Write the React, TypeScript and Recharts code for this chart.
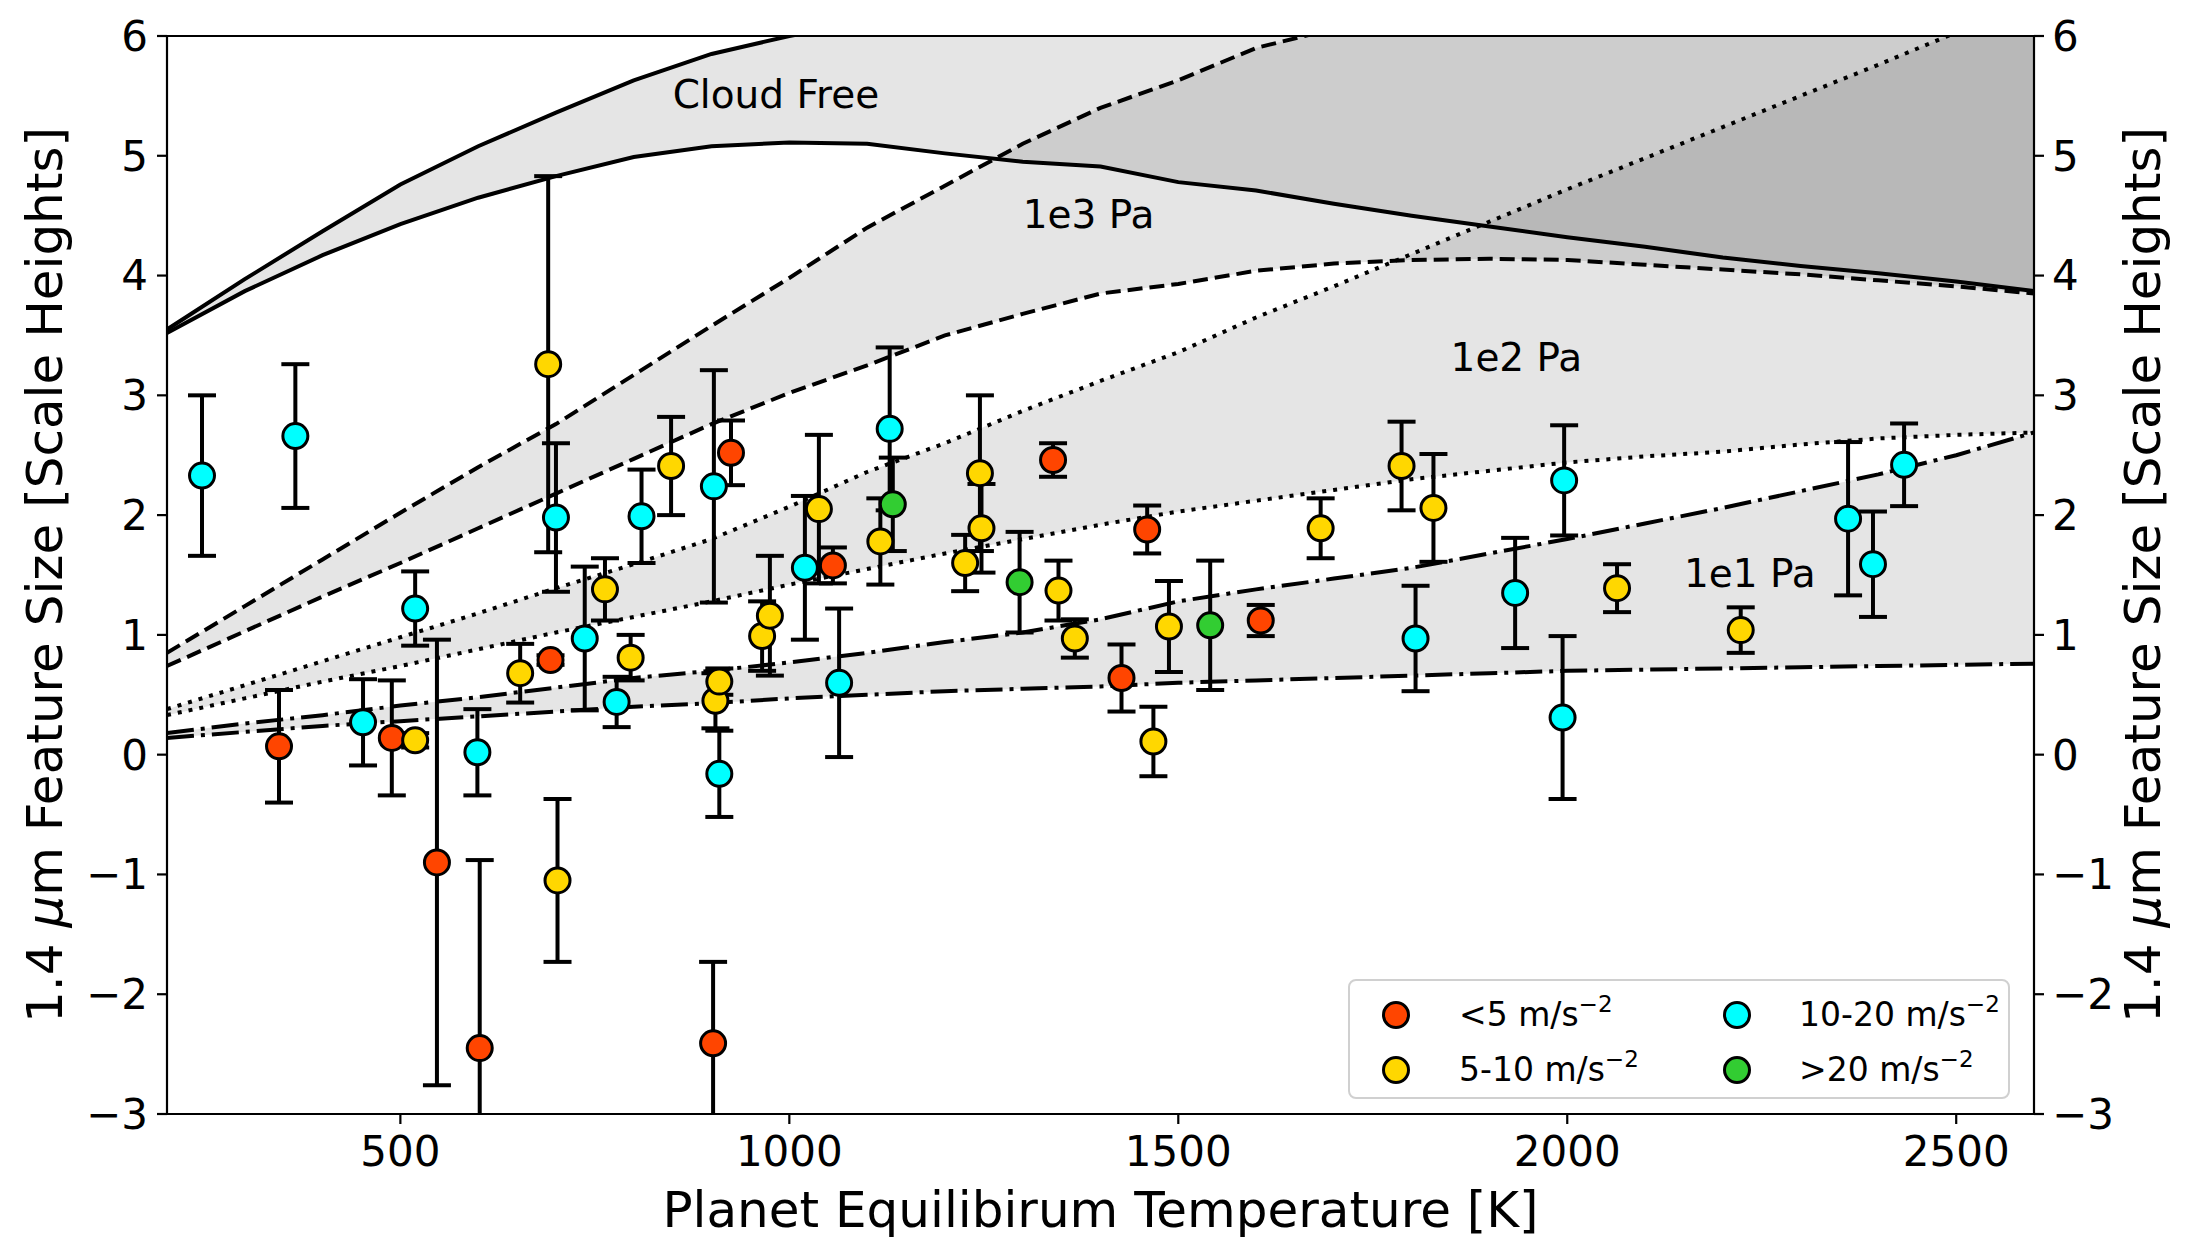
import React from 'react';
import { ComposedChart, Area, Line, Scatter, ErrorBar, XAxis, YAxis, Legend, ReferenceLine, Label } from 'recharts';

// model grid (K)
const temps = [200, 300, 400, 500, 600, 700, 800, 900, 1000, 1100, 1200, 1300, 1400, 1500, 1600, 1700, 1800, 1900, 2000, 2100, 2200, 2300, 2400, 2500, 2600];

// model curves, scale heights
const cloudFreeUpper = [3.55, 3.97, 4.37, 4.76, 5.08, 5.36, 5.63, 5.85, 6.0, 6.12, 6.22, 6.3, 6.38, 6.45, 6.5, 6.55, 6.6, 6.64, 6.68, 6.7, 6.72, 6.74, 6.76, 6.77, 6.78];
const cloudFreeLower = [3.52, 3.87, 4.17, 4.43, 4.65, 4.83, 4.99, 5.08, 5.11, 5.1, 5.02, 4.95, 4.91, 4.78, 4.71, 4.6, 4.5, 4.41, 4.32, 4.24, 4.15, 4.08, 4.02, 3.95, 3.87];
const pa1e3Upper = [0.85, 1.24, 1.63, 2.02, 2.4, 2.76, 3.17, 3.58, 3.98, 4.4, 4.75, 5.1, 5.4, 5.63, 5.9, 6.06, 6.2, 6.35, 6.5, 6.62, 6.74, 6.85, 6.95, 7.05, 7.15];
const pa1e3Lower = [0.74, 1.03, 1.32, 1.6, 1.89, 2.18, 2.47, 2.76, 3.02, 3.25, 3.5, 3.68, 3.85, 3.93, 4.04, 4.1, 4.13, 4.14, 4.13, 4.09, 4.05, 4.01, 3.96, 3.91, 3.85];
const pa1e2Upper = [0.38, 0.58, 0.78, 0.98, 1.18, 1.39, 1.59, 1.8, 2.07, 2.36, 2.6, 2.87, 3.12, 3.36, 3.65, 3.91, 4.18, 4.45, 4.72, 4.98, 5.24, 5.5, 5.76, 6.03, 6.29];
const pa1e2Lower = [0.33, 0.47, 0.61, 0.74, 0.88, 1.02, 1.15, 1.28, 1.42, 1.55, 1.68, 1.8, 1.92, 2.03, 2.12, 2.21, 2.3, 2.37, 2.44, 2.49, 2.53, 2.59, 2.64, 2.67, 2.69];
const pa1e1Upper = [0.18, 0.26, 0.33, 0.41, 0.48, 0.56, 0.64, 0.7, 0.77, 0.85, 0.94, 1.02, 1.13, 1.28, 1.38, 1.47, 1.56, 1.68, 1.8, 1.93, 2.06, 2.2, 2.34, 2.5, 2.69];
const pa1e1Lower = [0.14, 0.19, 0.24, 0.28, 0.32, 0.36, 0.4, 0.43, 0.47, 0.5, 0.53, 0.55, 0.57, 0.6, 0.62, 0.64, 0.66, 0.68, 0.7, 0.71, 0.72, 0.73, 0.74, 0.75, 0.76];

// planets by surface gravity: t = Teq, v = feature size, e = 1 sigma
const gravityLow = [
  { t: 344, v: 0.07, e: 0.47 }, { t: 489, v: 0.14, e: 0.48 }, { t: 547, v: -0.9, e: 1.86 },
  { t: 602, v: -2.45, e: 1.57 }, { t: 693, v: 0.79, e: 0.04 }, { t: 902, v: -2.41, e: 0.68 },
  { t: 925, v: 2.52, e: 0.27 }, { t: 1056, v: 1.58, e: 0.15 }, { t: 1339, v: 2.46, e: 0.14 },
  { t: 1427, v: 0.64, e: 0.28 }, { t: 1460, v: 1.88, e: 0.2 }, { t: 1606, v: 1.12, e: 0.13 },
];
const gravityMid = [
  { t: 519, v: 0.12, e: 0.06 }, { t: 654, v: 0.68, e: 0.245 }, { t: 690, v: 3.26, e: 1.57 },
  { t: 702, v: -1.05, e: 0.68 }, { t: 763, v: 1.38, e: 0.26 }, { t: 796, v: 0.81, e: 0.19 },
  { t: 848, v: 2.41, e: 0.41 }, { t: 905, v: 0.45, e: 0.23 }, { t: 910, v: 0.61, e: 0.11 },
  { t: 965, v: 0.99, e: 0.29 }, { t: 975, v: 1.16, e: 0.5 }, { t: 1038, v: 2.05, e: 0.62 },
  { t: 1117, v: 1.78, e: 0.36 }, { t: 1226, v: 1.6, e: 0.235 }, { t: 1245, v: 2.35, e: 0.65 },
  { t: 1247, v: 1.89, e: 0.37 }, { t: 1346, v: 1.37, e: 0.25 }, { t: 1367, v: 0.97, e: 0.16 },
  { t: 1468, v: 0.11, e: 0.29 }, { t: 1488, v: 1.07, e: 0.38 }, { t: 1683, v: 1.89, e: 0.25 },
  { t: 1787, v: 2.41, e: 0.37 }, { t: 1828, v: 2.06, e: 0.45 }, { t: 2064, v: 1.39, e: 0.2 },
  { t: 2223, v: 1.04, e: 0.19 },
];
const gravityHigh = [
  { t: 245, v: 2.33, e: 0.67 }, { t: 365, v: 2.66, e: 0.6 }, { t: 452, v: 0.27, e: 0.36 },
  { t: 519, v: 1.22, e: 0.31 }, { t: 599, v: 0.02, e: 0.36 }, { t: 700, v: 1.98, e: 0.62 },
  { t: 737, v: 0.97, e: 0.6 }, { t: 778, v: 0.44, e: 0.21 }, { t: 810, v: 1.99, e: 0.39 },
  { t: 903, v: 2.24, e: 0.97 }, { t: 910, v: -0.16, e: 0.36 }, { t: 1020, v: 1.56, e: 0.6 },
  { t: 1064, v: 0.6, e: 0.62 }, { t: 1129, v: 2.72, e: 0.68 }, { t: 1805, v: 0.97, e: 0.44 },
  { t: 1933, v: 1.35, e: 0.46 }, { t: 1996, v: 2.29, e: 0.46 }, { t: 1994, v: 0.31, e: 0.68 },
  { t: 2361, v: 1.97, e: 0.64 }, { t: 2393, v: 1.59, e: 0.44 }, { t: 2433, v: 2.42, e: 0.345 },
];
const gravityVeryHigh = [
  { t: 1133, v: 2.09, e: 0.39 }, { t: 1296, v: 1.44, e: 0.42 }, { t: 1541, v: 1.08, e: 0.54 },
];

const annotations = [
  { t: 850, v: 5.4, text: 'Cloud Free' },
  { t: 1300, v: 4.4, text: '1e3 Pa' },
  { t: 1850, v: 3.2, text: '1e2 Pa' },
  { t: 2150, v: 1.4, text: '1e1 Pa' },
];

const xTicks = [500, 1000, 1500, 2000, 2500];
const yTicks = [-3, -2, -1, 0, 1, 2, 3, 4, 5, 6];

// legend order follows matplotlib ncol=2 (column-major)
const legendItems = [
  { label: '<5', color: '#ff4500' },
  { label: '5-10', color: '#ffd700' },
  { label: '10-20', color: '#00ffff' },
  { label: '>20', color: '#32cd32' },
];

const chartData = temps.map((t, i) => ({
  t,
  cfHi: cloudFreeUpper[i],
  cfLo: cloudFreeLower[i],
  p3Hi: pa1e3Upper[i],
  p3Lo: pa1e3Lower[i],
  p2Hi: pa1e2Upper[i],
  p2Lo: pa1e2Lower[i],
  p1Hi: pa1e1Upper[i],
  p1Lo: pa1e1Lower[i],
  cfBand: [cloudFreeLower[i], cloudFreeUpper[i]],
  p3Band: [pa1e3Lower[i], pa1e3Upper[i]],
  p2Band: [pa1e2Lower[i], pa1e2Upper[i]],
  p1Band: [pa1e1Lower[i], pa1e1Upper[i]],
}));

const W = 2196;
const H = 1256;
const PLOT = { left: 167, top: 36, right: 162, bottom: 142 };

const FONT = 'DejaVu Sans';
const LW = 4;
const DASHED = '15 7';
const DOTTED = '4 7';
const DASHDOT = '27 7 4 7';

const fmt = (v: number) => String(v).replace('-', '\u2212');

const dotShape = (color: string) => (props: any) => (
  <circle cx={props.cx} cy={props.cy} r={12.5} fill={color} stroke="#000" strokeWidth={3} />
);

const textShape = (props: any) => (
  <text x={props.cx} y={props.cy} fontFamily={FONT} fontSize={39} fill="#000">
    {props.payload.text}
  </text>
);

const yLabel = (baselineX: number) => (props: any) => {
  const vb = props.viewBox;
  const cy = vb.y + vb.height / 2;
  return (
    <text
      x={baselineX}
      y={cy}
      transform={`rotate(-90 ${baselineX} ${cy})`}
      textAnchor="middle"
      fontFamily={FONT}
      fontSize={50}
      fill="#000"
    >
      1.4 <tspan fontStyle="italic">μ</tspan>m Feature Size [Scale Heights]
    </text>
  );
};

const xLabel = (props: any) => {
  const vb = props.viewBox;
  return (
    <text x={vb.x + vb.width / 2} y={vb.y + 113} textAnchor="middle" fontFamily={FONT} fontSize={50} fill="#000">
      Planet Equilibirum Temperature [K]
    </text>
  );
};

const renderLegend = () => (
  <div
    style={{
      width: 662,
      height: 120,
      boxSizing: 'border-box',
      border: '2px solid #d0d0d0',
      borderRadius: 8,
      background: 'rgba(255,255,255,0.8)',
      position: 'relative',
      fontFamily: FONT,
      fontSize: 33,
      color: '#000',
    }}
  >
    {legendItems.map((it, i) => {
      const col = Math.floor(i / 2);
      const row = i % 2;
      const mx = col === 0 ? 46 : 387;
      const tx = col === 0 ? 109 : 449;
      const my = row === 0 ? 34 : 89;
      return (
        <React.Fragment key={it.label}>
          <div
            style={{
              position: 'absolute',
              left: mx - 14,
              top: my - 14,
              width: 22,
              height: 22,
              borderRadius: '50%',
              background: it.color,
              border: '3px solid #000',
            }}
          />
          <div style={{ position: 'absolute', left: tx, top: my - 20, whiteSpace: 'nowrap', lineHeight: '40px' }}>
            {it.label} m/s
            <span style={{ fontSize: 23, position: 'relative', top: -14 }}>{'\u2212'}2</span>
          </div>
        </React.Fragment>
      );
    })}
  </div>
);

const axisLine = { stroke: '#000', strokeWidth: 2.2 };
const tickStyle = { fontFamily: FONT, fontSize: 42, fill: '#000' };

const errProps = {
  dataKey: 'e',
  direction: 'y' as const,
  width: 14,
  stroke: '#000',
  strokeWidth: 4,
  clipPath: 'url(#errClip)',
};

export default function App() {
  return (
    <div style={{ position: 'absolute', left: 0, top: 0, width: W, height: H, background: '#fff' }}>
      <ComposedChart width={W} height={H} data={chartData} margin={{ top: PLOT.top, right: 0, bottom: 0, left: 0 }}>
        <defs>
          <clipPath id="errClip">
            <rect x={PLOT.left} y={PLOT.top} width={W - PLOT.left - PLOT.right} height={H - PLOT.top - PLOT.bottom} />
          </clipPath>
        </defs>
        <XAxis
          type="number"
          dataKey="t"
          domain={[200, 2600]}
          ticks={xTicks}
          allowDataOverflow
          height={PLOT.bottom}
          axisLine={axisLine}
          tickLine={axisLine}
          tickSize={10}
          tickMargin={12}
          tick={tickStyle}
          label={<Label content={xLabel} />}
        />
        <YAxis
          yAxisId="left"
          type="number"
          domain={[-3, 6]}
          ticks={yTicks}
          allowDataOverflow
          width={PLOT.left}
          axisLine={axisLine}
          tickLine={axisLine}
          tickSize={10}
          tickMargin={9}
          tick={tickStyle}
          tickFormatter={fmt}
          label={<Label content={yLabel(62)} />}
        />
        <YAxis
          yAxisId="right"
          orientation="right"
          type="number"
          domain={[-3, 6]}
          ticks={yTicks}
          allowDataOverflow
          width={PLOT.right}
          axisLine={axisLine}
          tickLine={axisLine}
          tickSize={10}
          tickMargin={8}
          tick={tickStyle}
          tickFormatter={fmt}
          label={<Label content={yLabel(2160)} />}
        />
        <ReferenceLine yAxisId="left" y={6} stroke="#000" strokeWidth={2.2} />

        <Area yAxisId="left" type="linear" dataKey="cfBand" stroke="none" fill="#000" fillOpacity={0.1} isAnimationActive={false} activeDot={false} />
        <Area yAxisId="left" type="linear" dataKey="p3Band" stroke="none" fill="#000" fillOpacity={0.1} isAnimationActive={false} activeDot={false} />
        <Area yAxisId="left" type="linear" dataKey="p2Band" stroke="none" fill="#000" fillOpacity={0.1} isAnimationActive={false} activeDot={false} />
        <Area yAxisId="left" type="linear" dataKey="p1Band" stroke="none" fill="#000" fillOpacity={0.1} isAnimationActive={false} activeDot={false} />

        <Line yAxisId="left" type="linear" dataKey="cfHi" stroke="#000" strokeWidth={LW} dot={false} activeDot={false} isAnimationActive={false} />
        <Line yAxisId="left" type="linear" dataKey="cfLo" stroke="#000" strokeWidth={LW} dot={false} activeDot={false} isAnimationActive={false} />
        <Line yAxisId="left" type="linear" dataKey="p3Hi" stroke="#000" strokeWidth={LW} strokeDasharray={DASHED} dot={false} activeDot={false} isAnimationActive={false} />
        <Line yAxisId="left" type="linear" dataKey="p3Lo" stroke="#000" strokeWidth={LW} strokeDasharray={DASHED} dot={false} activeDot={false} isAnimationActive={false} />
        <Line yAxisId="left" type="linear" dataKey="p2Hi" stroke="#000" strokeWidth={LW} strokeDasharray={DOTTED} dot={false} activeDot={false} isAnimationActive={false} />
        <Line yAxisId="left" type="linear" dataKey="p2Lo" stroke="#000" strokeWidth={LW} strokeDasharray={DOTTED} dot={false} activeDot={false} isAnimationActive={false} />
        <Line yAxisId="left" type="linear" dataKey="p1Hi" stroke="#000" strokeWidth={LW} strokeDasharray={DASHDOT} dot={false} activeDot={false} isAnimationActive={false} />
        <Line yAxisId="left" type="linear" dataKey="p1Lo" stroke="#000" strokeWidth={LW} strokeDasharray={DASHDOT} dot={false} activeDot={false} isAnimationActive={false} />

        <Scatter yAxisId="left" data={annotations} dataKey="v" shape={textShape} isAnimationActive={false} />

        <Scatter yAxisId="left" data={gravityLow} dataKey="v" shape={dotShape('#ff4500')} isAnimationActive={false}>
          <ErrorBar {...errProps} />
        </Scatter>
        <Scatter yAxisId="left" data={gravityMid} dataKey="v" shape={dotShape('#ffd700')} isAnimationActive={false}>
          <ErrorBar {...errProps} />
        </Scatter>
        <Scatter yAxisId="left" data={gravityHigh} dataKey="v" shape={dotShape('#00ffff')} isAnimationActive={false}>
          <ErrorBar {...errProps} />
        </Scatter>
        <Scatter yAxisId="left" data={gravityVeryHigh} dataKey="v" shape={dotShape('#32cd32')} isAnimationActive={false}>
          <ErrorBar {...errProps} />
        </Scatter>

        <Legend
          layout="horizontal"
          verticalAlign="middle"
          align="center"
          content={renderLegend}
          wrapperStyle={{ left: 1348, top: 979, width: 662, height: 120 }}
        />
      </ComposedChart>
    </div>
  );
}
